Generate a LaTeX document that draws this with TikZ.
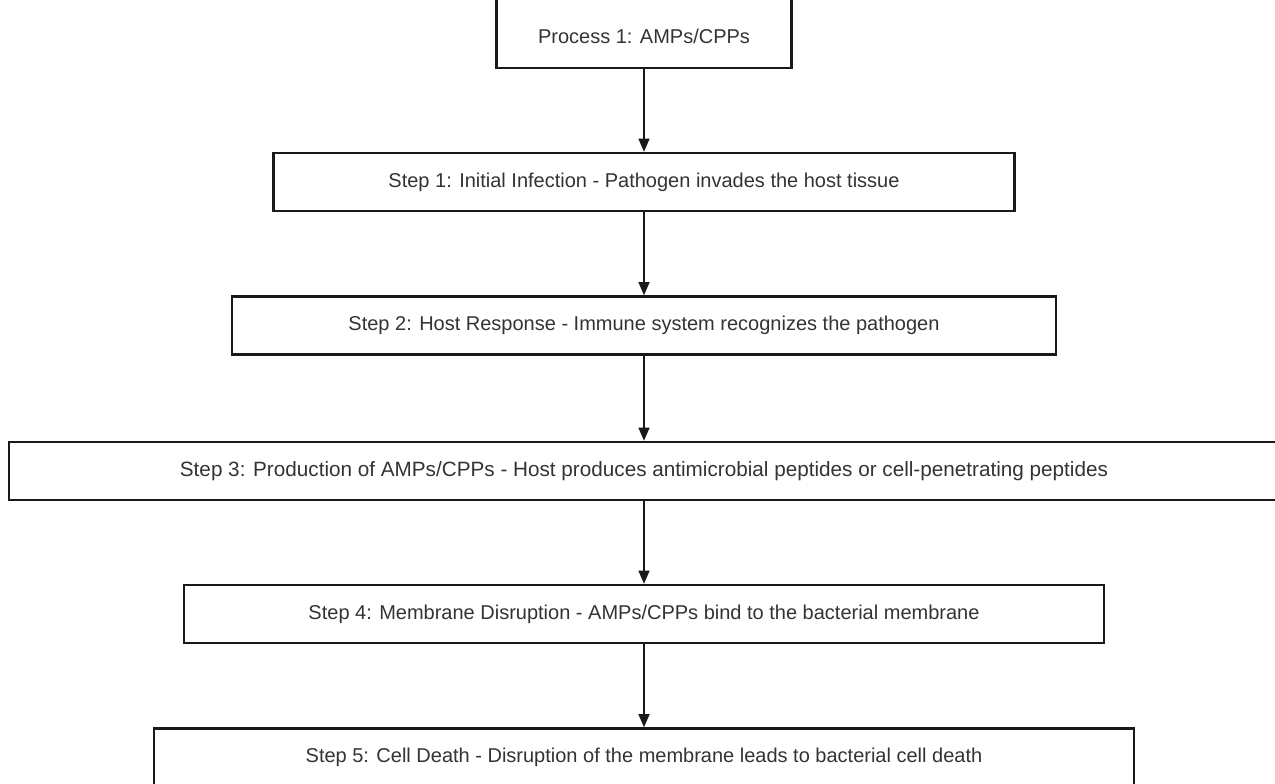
\documentclass[tikz,border=0pt]{standalone}
\usepackage{fontspec}
\setmainfont{Liberation Sans}
\usetikzlibrary{arrows.meta}

\tikzset{
  stepbox/.style={draw=black!90, line width=2.6pt, minimum height=58pt, inner sep=0pt,
    text=black!80, font=\fontsize{20}{24}\selectfont},
  flowarrow/.style={-{Triangle[length=13pt,width=11pt]}, line width=1.1pt, black!90}
}

\begin{document}
\begin{tikzpicture}[x=1pt,y=-1pt]
            \useasboundingbox (0,0) rectangle (1275,784);

            \node[stepbox, minimum width=295pt, text height=52pt, text depth=24pt, anchor=base] (p0) at (644,44) {Process 1: AMPs/CPPs};
            \node[stepbox, minimum width=741pt] (s1) at (644,182) {Step 1: Initial Infection - Pathogen invades the host tissue};
            \node[stepbox, minimum width=824pt] (s2) at (644,325.5) {Step 2: Host Response - Immune system recognizes the pathogen};
            \node[stepbox, minimum width=1270pt, font=\fontsize{20.7}{24}\selectfont] (s3) at (644,471) {Step 3: Production of AMPs/CPPs - Host produces antimicrobial peptides or cell-penetrating peptides};
            \node[stepbox, minimum width=920pt] (s4) at (644,614) {Step 4: Membrane Disruption - AMPs/CPPs bind to the bacterial membrane};
            \node[stepbox, minimum width=980pt] (s5) at (644,757.5) {Step 5: Cell Death - Disruption of the membrane leads to bacterial cell death};

            \draw[flowarrow] (p0.south) -- (s1.north);
            \draw[flowarrow] (s1.south) -- (s2.north);
            \draw[flowarrow] (s2.south) -- (s3.north);
            \draw[flowarrow] (s3.south) -- (s4.north);
            \draw[flowarrow] (s4.south) -- (s5.north);
        \end{tikzpicture}
\end{document}
